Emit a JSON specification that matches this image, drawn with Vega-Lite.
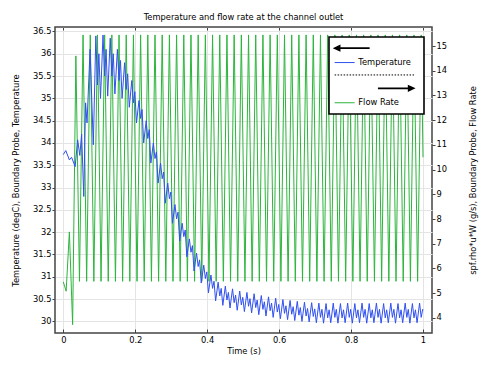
{
  "$schema": "https://vega.github.io/schema/vega-lite/v6.json",
  "autosize": {"type": "none"},
  "padding": {"left": 55, "top": 27, "right": 60, "bottom": 35},
  "width": 377,
  "height": 306,
  "title": {"text": "Temperature and flow rate at the channel outlet", "fontSize": 8.3, "fontWeight": "normal", "anchor": "middle", "offset": 5, "color": "#000"},
  "config": {
    "font": "DejaVu Sans",
    "view": {"stroke": "#444", "strokeWidth": 1.5},
    "axis": {"labelFontSize": 8.3, "titleFontSize": 8.3, "titleFontWeight": "normal", "labelColor": "#000", "titleColor": "#000", "tickColor": "#444", "domain": false, "gridColor": "#e4e4e4", "labelFlush": false, "labelOverlap": false}
  },
  "datasets": {
    "flow": [
      {"t":0,"v":5.46},{"t":0.008,"v":5.08},{"t":0.017,"v":7.48},{"t":0.026,"v":3.73},{"t":0.035,"v":14.6},
      {"t":0.045,"v":5.48},{"t":0.055,"v":15.45},{"t":0.065,"v":5.48},{"t":0.075,"v":15.45},{"t":0.085,"v":5.48},{"t":0.095,"v":15.45},
      {"t":0.105,"v":5.48},{"t":0.115,"v":15.45},{"t":0.125,"v":5.48},{"t":0.135,"v":15.45},{"t":0.145,"v":5.48},{"t":0.155,"v":15.45},
      {"t":0.165,"v":5.48},{"t":0.175,"v":15.45},{"t":0.185,"v":5.48},{"t":0.195,"v":15.45},{"t":0.205,"v":5.48},{"t":0.215,"v":15.45},
      {"t":0.225,"v":5.48},{"t":0.235,"v":15.45},{"t":0.245,"v":5.48},{"t":0.255,"v":15.45},{"t":0.265,"v":5.48},{"t":0.275,"v":15.45},
      {"t":0.285,"v":5.48},{"t":0.295,"v":15.45},{"t":0.305,"v":5.48},{"t":0.315,"v":15.45},{"t":0.325,"v":5.48},{"t":0.335,"v":15.45},
      {"t":0.345,"v":5.48},{"t":0.355,"v":15.45},{"t":0.365,"v":5.48},{"t":0.375,"v":15.45},{"t":0.385,"v":5.48},{"t":0.395,"v":15.45},
      {"t":0.405,"v":5.48},{"t":0.415,"v":15.45},{"t":0.425,"v":5.48},{"t":0.435,"v":15.45},{"t":0.445,"v":5.48},{"t":0.455,"v":15.45},
      {"t":0.465,"v":5.48},{"t":0.475,"v":15.45},{"t":0.485,"v":5.48},{"t":0.495,"v":15.45},{"t":0.505,"v":5.48},{"t":0.515,"v":15.45},
      {"t":0.525,"v":5.48},{"t":0.535,"v":15.45},{"t":0.545,"v":5.48},{"t":0.555,"v":15.45},{"t":0.565,"v":5.48},{"t":0.575,"v":15.45},
      {"t":0.585,"v":5.48},{"t":0.595,"v":15.45},{"t":0.605,"v":5.48},{"t":0.615,"v":15.45},{"t":0.625,"v":5.48},{"t":0.635,"v":15.45},
      {"t":0.645,"v":5.48},{"t":0.655,"v":15.45},{"t":0.665,"v":5.48},{"t":0.675,"v":15.45},{"t":0.685,"v":5.48},{"t":0.695,"v":15.45},
      {"t":0.705,"v":5.48},{"t":0.715,"v":15.45},{"t":0.725,"v":5.48},{"t":0.735,"v":15.45},{"t":0.745,"v":5.48},{"t":0.755,"v":15.45},
      {"t":0.765,"v":5.48},{"t":0.775,"v":15.45},{"t":0.785,"v":5.48},{"t":0.795,"v":15.45},{"t":0.805,"v":5.48},{"t":0.815,"v":15.45},
      {"t":0.825,"v":5.48},{"t":0.835,"v":15.45},{"t":0.845,"v":5.48},{"t":0.855,"v":15.45},{"t":0.865,"v":5.48},{"t":0.875,"v":15.45},
      {"t":0.885,"v":5.48},{"t":0.895,"v":15.45},{"t":0.905,"v":5.48},{"t":0.915,"v":15.45},{"t":0.925,"v":5.48},{"t":0.935,"v":15.45},
      {"t":0.945,"v":5.48},{"t":0.955,"v":15.45},{"t":0.965,"v":5.48},{"t":0.975,"v":15.45},{"t":0.985,"v":5.48},{"t":0.995,"v":15.45},
      {"t":1.0,"v":10.5}
    ],
    "temp": [
      {"t":0,"v":33.74},{"t":0.007,"v":33.83},{"t":0.017,"v":33.62},{"t":0.023,"v":33.68},{"t":0.033,"v":33.47},{"t":0.04,"v":34.07},
      {"t":0.046,"v":33.72},{"t":0.051,"v":34.2},{"t":0.057,"v":32.8},{"t":0.062,"v":34.9},{"t":0.066,"v":34.45},{"t":0.0745,"v":36.1},
      {"t":0.0835,"v":33.96},{"t":0.0905,"v":36.4},{"t":0.095,"v":35.3},{"t":0.099,"v":36.0},
      {"t":0.1035,"v":35.0},{"t":0.1105,"v":36.42},{"t":0.115,"v":35.5},{"t":0.119,"v":36.1},
      {"t":0.1235,"v":35.05},{"t":0.1305,"v":36.35},{"t":0.135,"v":35.5},{"t":0.139,"v":36.0},
      {"t":0.1435,"v":35.1},{"t":0.1505,"v":36.1},{"t":0.155,"v":35.4},{"t":0.159,"v":35.85},
      {"t":0.1635,"v":35.0},{"t":0.1705,"v":35.8},{"t":0.175,"v":35.2},{"t":0.179,"v":35.55},
      {"t":0.1835,"v":34.8},{"t":0.1905,"v":35.4},{"t":0.195,"v":34.9},{"t":0.199,"v":35.15},
      {"t":0.2035,"v":34.45},{"t":0.2105,"v":34.95},{"t":0.215,"v":34.55},{"t":0.219,"v":34.75},
      {"t":0.2235,"v":34.0},{"t":0.2305,"v":34.5},{"t":0.235,"v":34.1},{"t":0.239,"v":34.3},
      {"t":0.2435,"v":33.55},{"t":0.2505,"v":34.0},{"t":0.255,"v":33.65},{"t":0.259,"v":33.8},
      {"t":0.2635,"v":33.1},{"t":0.2705,"v":33.55},{"t":0.275,"v":33.2},{"t":0.279,"v":33.35},
      {"t":0.2835,"v":32.65},{"t":0.2905,"v":33.1},{"t":0.295,"v":32.75},{"t":0.299,"v":32.9},
      {"t":0.3035,"v":32.2},{"t":0.3105,"v":32.62},{"t":0.315,"v":32.3},{"t":0.319,"v":32.45},
      {"t":0.3235,"v":31.8},{"t":0.3305,"v":32.2},{"t":0.335,"v":31.9},{"t":0.339,"v":32.05},
      {"t":0.3435,"v":31.45},{"t":0.3505,"v":31.85},{"t":0.355,"v":31.55},{"t":0.359,"v":31.7},
      {"t":0.3635,"v":31.13},{"t":0.3705,"v":31.53},{"t":0.375,"v":31.23},{"t":0.379,"v":31.38},
      {"t":0.3835,"v":30.86},{"t":0.3905,"v":31.26},{"t":0.395,"v":30.96},{"t":0.399,"v":31.11},
      {"t":0.4035,"v":30.64},{"t":0.4105,"v":31.04},{"t":0.415,"v":30.74},{"t":0.419,"v":30.9},
      {"t":0.4235,"v":30.46},{"t":0.4305,"v":30.88},{"t":0.435,"v":30.57},{"t":0.439,"v":30.74},
      {"t":0.4435,"v":30.36},{"t":0.4505,"v":30.79},{"t":0.455,"v":30.48},{"t":0.459,"v":30.65},
      {"t":0.4635,"v":30.3},{"t":0.4705,"v":30.73},{"t":0.475,"v":30.42},{"t":0.479,"v":30.59},
      {"t":0.4835,"v":30.25},{"t":0.4905,"v":30.68},{"t":0.495,"v":30.37},{"t":0.499,"v":30.54},
      {"t":0.5035,"v":30.22},{"t":0.5105,"v":30.65},{"t":0.515,"v":30.34},{"t":0.519,"v":30.51},
      {"t":0.5235,"v":30.19},{"t":0.5305,"v":30.62},{"t":0.535,"v":30.31},{"t":0.539,"v":30.48},
      {"t":0.5435,"v":30.15},{"t":0.5505,"v":30.58},{"t":0.555,"v":30.27},{"t":0.559,"v":30.44},
      {"t":0.5635,"v":30.12},{"t":0.5705,"v":30.55},{"t":0.575,"v":30.24},{"t":0.579,"v":30.41},
      {"t":0.5835,"v":30.09},{"t":0.5905,"v":30.52},{"t":0.595,"v":30.21},{"t":0.599,"v":30.38},
      {"t":0.6035,"v":30.06},{"t":0.6105,"v":30.49},{"t":0.615,"v":30.18},{"t":0.619,"v":30.35},
      {"t":0.6235,"v":30.04},{"t":0.6305,"v":30.47},{"t":0.635,"v":30.16},{"t":0.639,"v":30.33},
      {"t":0.6435,"v":30.02},{"t":0.6505,"v":30.45},{"t":0.655,"v":30.14},{"t":0.659,"v":30.31},
      {"t":0.6635,"v":30.0},{"t":0.6705,"v":30.43},{"t":0.675,"v":30.12},{"t":0.679,"v":30.29},
      {"t":0.6835,"v":29.99},{"t":0.6905,"v":30.42},{"t":0.695,"v":30.11},{"t":0.699,"v":30.28},
      {"t":0.7035,"v":29.97},{"t":0.7105,"v":30.41},{"t":0.715,"v":30.09},{"t":0.719,"v":30.27},
      {"t":0.7235,"v":29.96},{"t":0.7305,"v":30.4},{"t":0.735,"v":30.08},{"t":0.739,"v":30.26},
      {"t":0.7435,"v":29.97},{"t":0.7505,"v":30.41},{"t":0.755,"v":30.09},{"t":0.759,"v":30.27},
      {"t":0.7635,"v":29.96},{"t":0.7705,"v":30.4},{"t":0.775,"v":30.08},{"t":0.779,"v":30.26},
      {"t":0.7835,"v":29.97},{"t":0.7905,"v":30.41},{"t":0.795,"v":30.09},{"t":0.799,"v":30.27},
      {"t":0.8035,"v":29.96},{"t":0.8105,"v":30.4},{"t":0.815,"v":30.08},{"t":0.819,"v":30.26},
      {"t":0.8235,"v":29.97},{"t":0.8305,"v":30.41},{"t":0.835,"v":30.09},{"t":0.839,"v":30.27},
      {"t":0.8435,"v":29.96},{"t":0.8505,"v":30.4},{"t":0.855,"v":30.08},{"t":0.859,"v":30.26},
      {"t":0.8635,"v":29.97},{"t":0.8705,"v":30.41},{"t":0.875,"v":30.09},{"t":0.879,"v":30.27},
      {"t":0.8835,"v":29.96},{"t":0.8905,"v":30.4},{"t":0.895,"v":30.08},{"t":0.899,"v":30.26},
      {"t":0.9035,"v":29.97},{"t":0.9105,"v":30.41},{"t":0.915,"v":30.09},{"t":0.919,"v":30.27},
      {"t":0.9235,"v":29.96},{"t":0.9305,"v":30.4},{"t":0.935,"v":30.08},{"t":0.939,"v":30.26},
      {"t":0.9435,"v":29.97},{"t":0.9505,"v":30.41},{"t":0.955,"v":30.09},{"t":0.959,"v":30.27},
      {"t":0.9635,"v":29.96},{"t":0.9705,"v":30.4},{"t":0.975,"v":30.08},{"t":0.979,"v":30.26},
      {"t":0.9835,"v":29.97},{"t":0.9905,"v":30.41},{"t":0.995,"v":30.09},{"t":0.999,"v":30.27},
      {"t":1.0,"v":30.25}
    ]
  },
  "layer": [
    {
      "data": {"name": "flow"},
      "mark": {"type": "line", "strokeWidth": 1, "clip": true},
      "encoding": {
        "x": {"field": "t", "type": "quantitative", "scale": {"domain": [-0.023, 1.025], "nice": false, "zero": false},
              "axis": {"orient": "top", "labels": false, "title": null, "grid": false, "values": [0, 0.2, 0.4, 0.6, 0.8, 1], "tickSize": -3}},
        "y": {"field": "v", "type": "quantitative", "scale": {"domain": [3.39, 15.77], "nice": false, "zero": false},
              "axis": {"orient": "right", "values": [4,5,6,7,8,9,10,11,12,13,14,15], "grid": false, "tickSize": 3, "labelPadding": 1,
                       "title": "spf.rho*u*W (g/s), Boundary Probe, Flow Rate", "titleAngle": 270, "titleBaseline": "top", "titlePadding": 22}},
        "color": {"datum": "Flow Rate", "type": "nominal",
                  "scale": {"domain": ["L", "Temperature", "D", "R", "Flow Rate"], "range": ["#000000", "#3050f0", "#000000", "#000000", "#2cb53c"]},
                  "legend": {
                    "title": null, "orient": "none", "legendX": 274, "legendY": 10,
                    "symbolSize": 121, "symbolStrokeWidth": 1, "labelFontSize": 8.3, "labelColor": "#000", "labelOffset": 14,
                    "rowPadding": 3.4, "padding": 7, "strokeColor": "#000", "fillColor": "#ffffff",
                    "labelExpr": "datum.value == 'Temperature' || datum.value == 'Flow Rate' ? datum.value : ''",
                    "encode": {
                      "legend": {"update": {"strokeWidth": {"value": 1.6}}},
                      "symbols": {"update": {
                      "shape": {"signal": "datum.value == 'L' ? 'M-1,0L-0.09,-0.42L-0.09,0.42Z M-0.2,0L5.36,0' : datum.value == 'D' ? 'M-1,0h.27m.275,0h.27m.275,0h.27m.275,0h.27m.275,0h.27m.275,0h.27m.275,0h.27m.275,0h.27m.275,0h.27m.275,0h.27m.275,0h.27m.275,0h.27m.275,0h.27m.275,0h.27m.275,0h.27m.275,0h.27m.275,0h.27m.275,0h.27m.275,0h.27m.275,0h.27m.275,0h.27m.275,0h.27m.275,0h.27m.275,0h.27m.275,0h.27m.275,0h.27m.275,0h.27' : datum.value == 'R' ? 'M6.87,0L12.6,0 M13.36,0L12.45,-0.42L12.45,0.42Z' : 'M-1,0L2.636,0'"},
                      "fill": {"signal": "datum.value == 'L' || datum.value == 'R' ? '#000000' : 'transparent'"},
                      "strokeWidth": {"signal": "datum.value == 'L' || datum.value == 'R' ? 1.6 : 1"}
                    }}}
                  }}
      }
    },
    {
      "data": {"name": "temp"},
      "mark": {"type": "line", "strokeWidth": 1, "clip": true},
      "encoding": {
        "x": {"field": "t", "type": "quantitative", "scale": {"domain": [-0.023, 1.025], "nice": false, "zero": false},
              "axis": {"orient": "bottom", "title": "Time (s)", "values": [0, 0.2, 0.4, 0.6, 0.8, 1], "format": "~g", "grid": true, "tickSize": -4, "labelPadding": 6.5, "titlePadding": 2.5}},
        "y": {"field": "v", "type": "quantitative", "scale": {"domain": [29.74, 36.6], "nice": false, "zero": false},
              "axis": {"orient": "left", "values": [30,30.5,31,31.5,32,32.5,33,33.5,34,34.5,35,35.5,36,36.5], "format": "~g", "grid": true, "tickSize": 3, "labelPadding": 1,
                       "title": "Temperature (degC), Boundary Probe, Temperature", "titlePadding": 12}},
        "color": {"datum": "Temperature", "type": "nominal"}
      }
    }
  ],
  "resolve": {"scale": {"y": "independent"}, "axis": {"x": "independent"}}
}
